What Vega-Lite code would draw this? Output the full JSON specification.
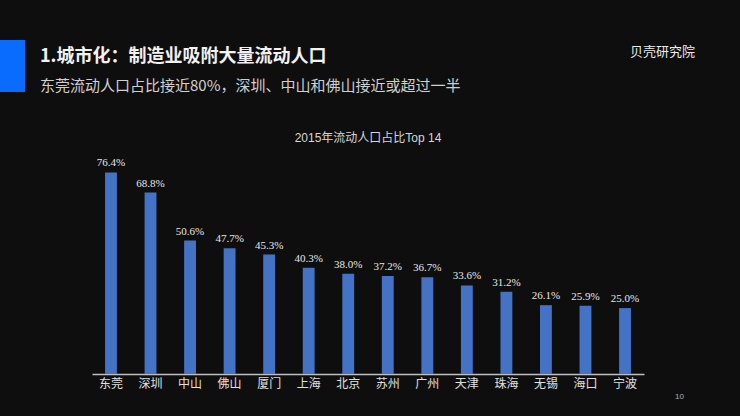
{
  "$schema": "https://vega.github.io/schema/vega-lite/v6.json",
  "background": "#0e0e0e",
  "padding": {"left": 0, "top": 40, "right": 0, "bottom": 20},
  "config": {
    "view": {"stroke": null},
    "font": "Noto Sans CJK SC"
  },
  "vconcat": [
    {
      "hconcat": [
        {
          "width": 25,
          "height": 52,
          "view": {"fill": "#0a6cff", "stroke": null},
          "data": {"values": []},
          "mark": "point",
          "encoding": {}
        },
        {
          "width": 575,
          "height": 1,
          "title": {
            "text": "1.城市化：制造业吸附大量流动人口",
            "subtitle": "东莞流动人口占比接近80%，深圳、中山和佛山接近或超过一半",
            "orient": "bottom",
            "anchor": "start",
            "font": "Noto Sans CJK SC",
            "fontSize": 18,
            "fontWeight": "bold",
            "color": "#f2f2f2",
            "subtitleFont": "Noto Sans CJK SC",
            "subtitleFontSize": 15,
            "subtitleColor": "#d0d0d0",
            "subtitlePadding": 13,
            "offset": 7
          },
          "data": {"values": []},
          "mark": "point",
          "encoding": {}
        },
        {
          "width": 110,
          "height": 1,
          "title": {
            "text": "贝壳研究院",
            "orient": "bottom",
            "anchor": "start",
            "font": "Noto Sans CJK SC",
            "fontSize": 13,
            "fontWeight": "normal",
            "color": "#ececec",
            "offset": 5
          },
          "data": {"values": []},
          "mark": "point",
          "encoding": {}
        }
      ],
      "spacing": 15
    },
    {
      "hconcat": [
        {
          "width": 52,
          "height": 10,
          "data": {"values": []},
          "mark": "point",
          "encoding": {}
        },
        {
          "width": 552,
          "height": 211,
          "title": {
            "text": "2015年流动人口占比Top 14",
            "anchor": "middle",
            "font": "Liberation Sans, Noto Sans CJK SC",
            "fontSize": 12,
            "fontWeight": "normal",
            "color": "#d6d6d6",
            "offset": 12
          },
          "data": {
            "values": [
              {"city": "东莞", "share": 0.764},
              {"city": "深圳", "share": 0.688},
              {"city": "中山", "share": 0.506},
              {"city": "佛山", "share": 0.477},
              {"city": "厦门", "share": 0.453},
              {"city": "上海", "share": 0.403},
              {"city": "北京", "share": 0.380},
              {"city": "苏州", "share": 0.372},
              {"city": "广州", "share": 0.367},
              {"city": "天津", "share": 0.336},
              {"city": "珠海", "share": 0.312},
              {"city": "无锡", "share": 0.261},
              {"city": "海口", "share": 0.259},
              {"city": "宁波", "share": 0.250}
            ]
          },
          "encoding": {
            "x": {
              "field": "city",
              "type": "nominal",
              "sort": null,
              "scale": {"paddingInner": 0.7, "paddingOuter": 0.33},
              "axis": {
                "title": "10",
                "titleX": 587,
                "titleY": 22,
                "titleAlign": "center",
                "titleBaseline": "middle",
                "titleFontSize": 8,
                "titleFontWeight": "normal",
                "titleColor": "#b0b0b0",
                "titleFont": "Liberation Sans",
                "labelAngle": 0,
                "labelFont": "Noto Sans CJK SC",
                "labelFontSize": 12,
                "labelColor": "#e0e0e0",
                "labelPadding": 4,
                "ticks": false,
                "domainColor": "#bfbfbf",
                "domainWidth": 1.5,
                "grid": false
              }
            },
            "y": {
              "field": "share",
              "type": "quantitative",
              "scale": {"domain": [0, 0.8], "nice": false},
              "axis": null
            }
          },
          "layer": [
            {"mark": {"type": "bar", "color": "#4472c4"}},
            {
              "mark": {
                "type": "text",
                "baseline": "bottom",
                "dy": -4,
                "font": "Liberation Serif",
                "fontSize": 11,
                "color": "#e8e8e8"
              },
              "encoding": {"text": {"field": "share", "type": "quantitative", "format": ".1%"}}
            }
          ]
        }
      ],
      "spacing": 40
    }
  ],
  "spacing": 38
}
